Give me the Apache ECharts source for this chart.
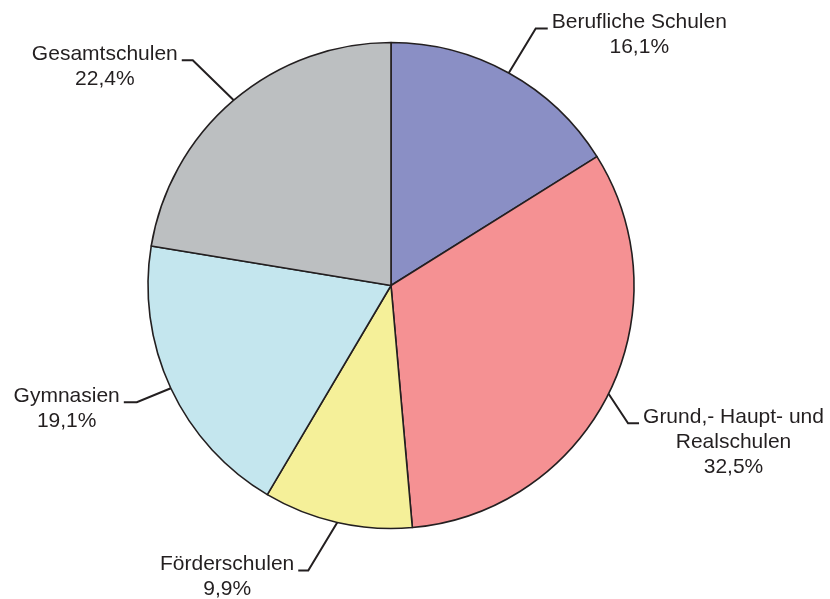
<!DOCTYPE html>
<html>
<head>
<meta charset="utf-8">
<script src="https://cdn.jsdelivr.net/npm/echarts@6/dist/echarts.min.js"></script>
<style>html,body{margin:0;padding:0;background:#fff}#c{width:830px;height:599px}</style>
</head>
<body>
<div id="c"></div>
<script>
// Data
const categories = ['Berufliche Schulen', 'Grund,- Haupt- und\nRealschulen', 'Förderschulen', 'Gymnasien', 'Gesamtschulen'];
const values = [16.1, 32.5, 9.9, 19.1, 22.4];
const colors = ['#8a8fc5', '#f59193', '#f5f099', '#c4e6ee', '#bcbfc1'];

// Label leader geometry (offset of elbow from slice edge, horizontal segment length, side)
const leader = [
  { dx: 27, dy: -44.5, len2: 12, side: 1 },
  { dx: 19.5, dy: 29.6, len2: 11, side: 1 },
  { dx: -29, dy: 48, len2: 10, side: -1 },
  { dx: -34, dy: 14, len2: 13, side: -1 },
  { dx: -41, dy: -40, len2: 11, side: -1 }
];

const chart = echarts.init(document.getElementById('c'), null, { renderer: 'canvas' });
chart.setOption({
  animation: false,
  backgroundColor: '#ffffff',
  series: [{
    type: 'pie',
    center: [391, 285.5],
    radius: 243,
    startAngle: 90,
    clockwise: true,
    avoidLabelOverlap: false,
    itemStyle: { borderColor: '#231f20', borderWidth: 1.6 },
    label: {
      show: true,
      position: 'outside',
      color: '#231f20',
      fontFamily: 'Liberation Sans, Arial, sans-serif',
      fontSize: 21,
      lineHeight: 25,
      formatter: p => p.name + '\n' + String(p.value).replace('.', ',') + '%'
    },
    labelLine: {
      show: true,
      length: 30,
      length2: 10,
      lineStyle: { color: '#231f20', width: 2 }
    },
    labelLayout: function (params) {
      const g = leader[params.dataIndex];
      const pts = params.labelLinePoints;
      if (!pts) return {};
      const e = pts[0];
      const elbow = [e[0] + g.dx, e[1] + g.dy];
      const end = [elbow[0] + g.side * g.len2, elbow[1]];
      const w = params.labelRect.width;
      return {
        x: end[0] + g.side * (4 + w / 2),
        y: end[1] - 19,
        align: 'center',
        verticalAlign: 'top',
        labelLinePoints: [e, elbow, end]
      };
    },
    data: categories.map((c, i) => ({ name: c, value: values[i], itemStyle: { color: colors[i] } }))
  }]
});
</script>
</body>
</html>
